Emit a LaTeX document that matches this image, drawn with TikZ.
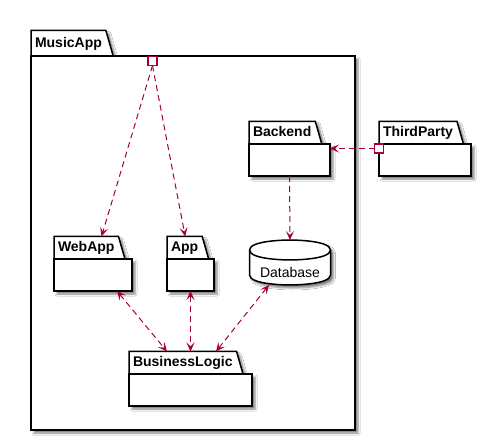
\documentclass[tikz,border=0pt]{standalone}
\usepackage{fontspec}
\setsansfont{Liberation Sans}
\usepackage{tikz}
\usetikzlibrary{arrows.meta, shapes.geometric, shadows.blur, calc}
\definecolor{umlred}{HTML}{A80036}

\begin{document}
\begin{tikzpicture}[x=1pt, y=-1pt,
      every node/.append style={font=\sffamily\fontsize{14}{16}\selectfont, outer sep=0pt},
      pkgshadow/.style={blur shadow={shadow xshift=3pt, shadow yshift=-3pt,
        shadow blur radius=2pt, shadow opacity=50}}]
    \tikzstyle{tab} = [trapezium, trapezium left angle=90, trapezium right angle=74,
      draw, fill=white, line width=1.5pt, anchor=bottom left corner,
      font=\sffamily\bfseries\fontsize{14}{16}\selectfont,
      text height=10pt, text depth=1.5pt, inner xsep=4pt, inner ysep=5.5pt, pkgshadow]
    \tikzstyle{body} = [rectangle, draw, fill=white, line width=1.5pt, anchor=north west,
      inner sep=0pt, pkgshadow]
    \tikzstyle{port} = [rectangle, draw=umlred, fill=white, line width=1.5pt,
      minimum size=9pt, inner sep=0pt]
    \tikzstyle{dep} = [umlred, line width=1pt, dash pattern=on 6pt off 4pt,
      -{Stealth[length=9pt, width=8pt, inset=4pt]}]
    \tikzstyle{both} = [dep, {Stealth[length=9pt, width=8pt, inset=4pt]}-{Stealth[length=9pt, width=8pt, inset=4pt]}]
    \fill[white] (0,0) rectangle (491,441);
    \useasboundingbox (0,0) rectangle (491,441);

    \node[tab, inner ysep=7pt] (musictab) at (31,56) {MusicApp};
    \node[body, minimum width=324pt, minimum height=374pt] (music) at (musictab.bottom left corner) {};

    \node[tab] (backtab) at (249,144) {Backend};
    \node[body, minimum width=81pt, minimum height=32pt] (backend) at (backtab.bottom left corner) {};
    \node[tab] (thirdtab) at (379,144) {ThirdParty};
    \node[body, minimum width=92pt, minimum height=32pt] (third) at (thirdtab.bottom left corner) {};
    \node[tab] (webtab) at (54,259) {WebApp};
    \node[body, minimum width=78pt, minimum height=32pt] (webapp) at (webtab.bottom left corner) {};
    \node[tab] (apptab) at (167,259) {App};
    \node[body, minimum width=47pt, minimum height=32pt] (app) at (apptab.bottom left corner) {};
    \node[tab] (logictab) at (129,374) {BusinessLogic};
    \node[body, minimum width=123pt, minimum height=32pt] (logic) at (logictab.bottom left corner) {};

    \node[minimum width=81pt, minimum height=45pt, inner sep=0pt] (db) at (290,262.5) {};
    \draw[line width=1.5pt, fill=white, pkgshadow] let \p1=(db.north west), \p2=(db.south east), \n1={(\x1+\x2)/2} in
      (\x1,\y1-10pt) .. controls (\x1,\y1) and (\n1,\y1) .. (\n1,\y1)
      .. controls (\n1,\y1) and (\x2,\y1) .. (\x2,\y1-10pt)
      -- (\x2,\y2+10pt) .. controls (\x2,\y2) and (\n1,\y2) .. (\n1,\y2)
      .. controls (\n1,\y2) and (\x1,\y2) .. (\x1,\y2+10pt) -- cycle;
    \draw[line width=1.5pt] let \p1=(db.north west), \p2=(db.south east), \n1={(\x1+\x2)/2} in
      (\x1,\y1-10pt) .. controls (\x1,\y1-20pt) and (\n1,\y1-20pt) .. (\n1,\y1-20pt)
      .. controls (\n1,\y1-20pt) and (\x2,\y1-20pt) .. (\x2,\y1-10pt);
    \node (dbtext) at ([yshift=-10pt]db.center) {Database};

    \node[port] (musicport) at ($(musictab.bottom left corner)+(121.5,5)$) {};
    \draw[dep] (musicport.south) -- ([xshift=-17pt]webtab.top right corner);
    \draw[dep] (musicport.south) -- ([xshift=-17pt]apptab.top right corner);
    \draw[dep] (backend.south) -- (db.north);
    \node[port] (thirdport) at (379,148.5) {};
    \draw[dep] (thirdport.west) -- (backend.east |- thirdport.west);
    \draw[both] ([xshift=-15pt]webapp.south east) -- ([xshift=38pt]logictab.top left corner);
    \draw[both] (app.south) -- (app.south |- logictab.top left corner);
    \draw[both] ([xshift=-21pt]db.south) -- ([xshift=87pt]logictab.top left corner);
\end{tikzpicture}
\end{document}
